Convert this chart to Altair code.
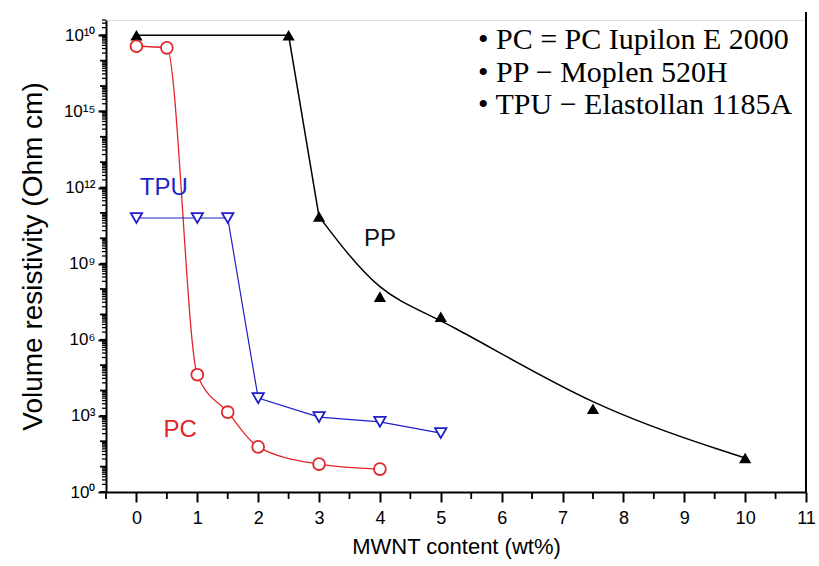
import altair as alt
import pandas as pd

# ---- data ----
pp_x = [0, 2.5, 3, 4, 5, 7.5, 10]
pp_y = [1e18, 1e18, 7.2e10, 5e7, 8.1e6, 1.9e3, 22]
pp_seg = ["a", "a", "b", "b", "b", "b", "b"]

pc_x = [0, 0.5, 1, 1.5, 2, 3, 4]
pc_y = [3.7e17, 3.2e17, 4.2e4, 1.4e3, 60, 12.6, 8]

tpu_x = [0, 1, 1.5, 2, 3, 4, 5]
tpu_y = [6.3e10, 6.3e10, 6.3e10, 5e3, 9e2, 5.8e2, 2.1e2]

y_major = [1, 1e3, 1e6, 1e9, 1e12, 1e15, 1e18]
y_labels = ["10⁰", "10³", "10⁶", "10⁹", "10¹²", "10¹⁵", "10¹⁰"]
y_decades = [10**k for k in range(0, 19)]
y_minor = [m * 10**k for k in range(0, 19) for m in range(2, 10) if m * 10**k <= 4e18]
x_major = list(range(0, 12))
x_minor = [i + 0.5 for i in range(-1, 11)]

ann_text = ["TPU", "PP", "PC"]
ann_x = [0.45, 4.0, 0.72]
ann_y = [1e12, 9e9, 2.8e2]
ann_color = ["#1f1fc8", "#111111", "#e0262a"]

legend_lines = ["• PC = PC Iupilon E 2000", "• PP − Moplen 520H", "• TPU − Elastollan 1185A"]
legend_y = [20, 53, 85]

df = pd.concat([
    pd.DataFrame({"x": pp_x, "y": pp_y, "s": "PP", "seg": pp_seg}),
    pd.DataFrame({"x": pc_x, "y": pc_y, "s": "PC", "seg": "a"}),
    pd.DataFrame({"x": tpu_x, "y": tpu_y, "s": "TPU", "seg": "a"}),
])

xs = alt.Scale(domain=[-0.5, 11], nice=False, zero=False)
ys = alt.Scale(type="log", domain=[1, 4e18], nice=False)

font = "Liberation Sans"
labelexpr = "[" + ",".join("'%s'" % l for l in y_labels) + "][round(log(datum.value)/log(10)/3)]"

x_axis = alt.Axis(values=x_major, title="MWNT content (wt%)", titleFont=font, titleFontSize=22,
                  titleFontWeight="normal", titleColor="black", titlePadding=9,
                  labelFont=font, labelFontSize=18, labelColor="black", labelPadding=7,
                  tickSize=10, tickWidth=2, tickColor="black", domainColor="black",
                  domainWidth=2, grid=False, labelFlush=False, labelOverlap=False)
y_axis = alt.Axis(values=y_major, labelExpr=labelexpr, title="Volume resistivity (Ohm cm)",
                  titleFont=font, titleFontSize=28, titleFontWeight="normal", titleColor="black",
                  titlePadding=16, labelFont=font, labelFontSize=17, labelColor="black",
                  labelPadding=3, tickSize=8, tickWidth=2, tickColor="black",
                  domainColor="black", domainWidth=2, grid=False, labelOverlap=False)

X = alt.X("x:Q", scale=xs, axis=x_axis)
Y = alt.Y("y:Q", scale=ys, axis=y_axis)


def pts(name, color, shape, filled, size):
    return alt.Chart(df).transform_filter(alt.datum.s == name).mark_point(
        shape=shape, filled=filled, color=color, size=size, strokeWidth=1.8, opacity=1,
        fill=color if filled else "white").encode(x=X, y=Y)


def line(name, color, interp, width, seg):
    return alt.Chart(df).transform_filter(
        (alt.datum.s == name) & (alt.datum.seg == seg)).mark_line(
        color=color, strokeWidth=width, interpolate=interp).encode(x=X, y=Y)


# PP: straight from 0 to 3, B-spline smoothing after 3
pp_a = alt.Chart(df).transform_filter((alt.datum.s == "PP") & (alt.datum.x <= 3)).mark_line(
    color="black", strokeWidth=1.5).encode(x=X, y=Y)
pp_b = line("PP", "black", "basis", 1.5, "b")
pc_l = line("PC", "#e0262a", "monotone", 1.3, "a")
tpu_l = line("TPU", "#1f1fc8", "linear", 1.2, "a")

pp_p = pts("PP", "black", "triangle-up", True, 150)
pc_p = pts("PC", "#e0262a", "circle", False, 140)
tpu_p = pts("TPU", "#1f1fc8", "triangle-down", False, 130)

# minor ticks drawn as short rules positioned by the shared scales
minor_y = alt.Chart(pd.DataFrame({"y": y_minor})).mark_rule(color="black", strokeWidth=1.3).encode(
    y=Y, x=alt.value(0), x2=alt.value(-4))
dec_y = alt.Chart(pd.DataFrame({"y": y_decades})).mark_rule(color="black", strokeWidth=1.8).encode(
    y=Y, x=alt.value(0), x2=alt.value(-6))
minor_x = alt.Chart(pd.DataFrame({"x": x_minor})).mark_rule(color="black", strokeWidth=1.8).encode(
    x=X, y=alt.value(472), y2=alt.value(479))

ann = alt.Chart(pd.DataFrame({"t": ann_text, "x": ann_x, "y": ann_y, "c": ann_color})).mark_text(
    font=font, fontSize=24, align="center", baseline="middle").encode(
    x=X, y=Y, text="t:N", color=alt.Color("c:N", scale=None))

legs = [
    alt.Chart(pd.DataFrame({"t": [t]})).mark_text(
        font="Liberation Serif", fontSize=30, align="left", baseline="middle", color="black").encode(
        x=alt.value(372), y=alt.value(yy), text="t:N")
    for t, yy in zip(legend_lines, legend_y)
]

frame = alt.Chart(pd.DataFrame({"a": [0]})).mark_rule(color="black", strokeWidth=2).encode(
    x=alt.value(700), y=alt.value(-8), y2=alt.value(472))

chart = alt.layer(pp_a, pp_b, pc_l, tpu_l, pp_p, pc_p, tpu_p, minor_y, dec_y, minor_x, ann,
                  *legs, frame).properties(
    width=700, height=472,
    autosize=alt.AutoSizeParams(type="none"),
    padding={"left": 106, "top": 20, "right": 13, "bottom": 74},
).configure_view(stroke=None).configure(background="white")

chart.save("out.html", embed_options={"renderer": "svg", "actions": False})
